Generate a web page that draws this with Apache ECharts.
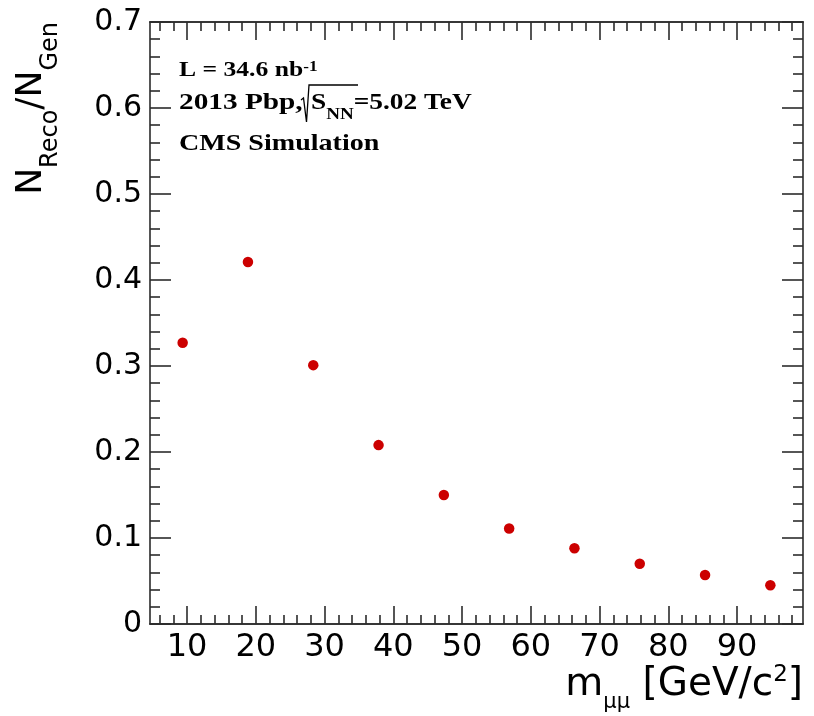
<!DOCTYPE html>
<html><head><meta charset="utf-8">
<script src="https://cdn.jsdelivr.net/npm/echarts@6/dist/echarts.min.js"></script>
<style>html,body{margin:0;padding:0;background:#fff}#c{width:814px;height:716px}</style>
</head><body><div id="c"></div>
<script>
// Data
const massBinCenters = [9.35, 18.85, 28.35, 37.85, 47.35, 56.85, 66.35, 75.85, 85.35, 94.85];
const recoOverGen   = [0.327, 0.421, 0.301, 0.208, 0.150, 0.111, 0.088, 0.070, 0.057, 0.045];
const xMajorTicks = [10, 20, 30, 40, 50, 60, 70, 80, 90];
const xMinorTicks = [6, 8, 12, 14, 16, 18, 22, 24, 26, 28, 32, 34, 36, 38, 42, 44, 46, 48,
                     52, 54, 56, 58, 62, 64, 66, 68, 72, 74, 76, 78, 82, 84, 86, 88, 92, 94, 96, 98];
const xRange = [4.6, 99.6];
const yRange = [0, 0.7];
const yStep = 0.1;

const frameColor = '#2b2b2b';
const sans = 'DejaVu Sans';
const serif = 'Liberation Serif';

const chart = echarts.init(document.getElementById('c'), null, {renderer: 'canvas'});

const gridRect = {left: 150, right: 11, top: 22, bottom: 92, outerBoundsMode: 'none', containLabel: false};
const lineStyle = {color: frameColor, width: 1.6};

function xAxis(grid, pos, ticks, len, labels) {
  return {
    type: 'value', gridIndex: grid, position: pos, min: xRange[0], max: xRange[1],
    axisLine: {show: true, onZero: false, lineStyle: lineStyle},
    axisTick: {show: true, inside: true, length: len, customValues: ticks, lineStyle: lineStyle},
    axisLabel: labels ? {show: true, customValues: ticks, fontFamily: sans, fontSize: 32, color: '#000', margin: 8} : {show: false},
    splitLine: {show: false}
  };
}
function yAxis(grid, pos, labels, show) {
  return {
    type: 'value', gridIndex: grid, position: pos, min: yRange[0], max: yRange[1], interval: yStep,
    show: show,
    axisLine: {show: true, onZero: false, lineStyle: lineStyle},
    axisTick: {show: true, inside: true, length: 21, lineStyle: lineStyle},
    minorTick: {show: true, splitNumber: 5, length: 10, lineStyle: lineStyle},
    axisLabel: labels ? {show: true, fontFamily: sans, fontSize: 30, color: '#000', margin: 8} : {show: false},
    splitLine: {show: false}
  };
}

chart.setOption({
  animation: false,
  backgroundColor: '#fff',
  grid: [Object.assign({}, gridRect), Object.assign({}, gridRect)],
  xAxis: [
    xAxis(0, 'bottom', xMajorTicks, 18, true),
    xAxis(0, 'top', xMajorTicks, 18, false),
    xAxis(1, 'bottom', xMinorTicks, 9, false),
    xAxis(1, 'top', xMinorTicks, 9, false)
  ],
  yAxis: [
    yAxis(0, 'left', true, true),
    yAxis(0, 'right', false, true),
    yAxis(1, 'left', false, false)
  ],
  series: [{
    type: 'scatter', xAxisIndex: 0, yAxisIndex: 0,
    data: massBinCenters.map((x, i) => [x, recoOverGen[i]]),
    symbol: 'circle', symbolSize: 10.5,
    itemStyle: {color: '#cc0000', opacity: 1}
  }],
  graphic: [
    { // y-axis title
      type: 'text', x: 63, y: 22, rotation: Math.PI / 2,
      style: {
        text: '{m|N}{s|Reco}{m|/N}{s|Gen}', align: 'right', verticalAlign: 'bottom',
        rich: {
          m: {fontFamily: sans, fontSize: 36, lineHeight: 36, verticalAlign: 'bottom', padding: [0, 0, 13, 0], fill: '#000'},
          s: {fontFamily: sans, fontSize: 24, lineHeight: 24, verticalAlign: 'bottom', fill: '#000'}
        }
      }
    },
    { // x-axis title
      type: 'text', x: 803, y: 713,
      style: {
        text: '{m|m}{s|μμ}{m| [GeV/c}{p|2}{m|]}', align: 'right', verticalAlign: 'bottom',
        rich: {
          m: {fontFamily: sans, fontSize: 39, lineHeight: 39, verticalAlign: 'bottom', padding: [0, 0, 9, 0], fill: '#000'},
          s: {fontFamily: sans, fontSize: 21, lineHeight: 21, verticalAlign: 'bottom', fill: '#000'},
          p: {fontFamily: sans, fontSize: 23, lineHeight: 23, verticalAlign: 'bottom', padding: [0, 0, 26, 0], fill: '#000'}
        }
      }
    },
    {
      type: 'text', x: 179, y: 81, scaleX: 1.22,
      style: {
        text: '{m|L = 34.6 nb}{p|-1}', align: 'left', verticalAlign: 'bottom',
        rich: {
          m: {fontFamily: serif, fontWeight: 'bold', fontSize: 21, lineHeight: 21, verticalAlign: 'bottom', fill: '#000'},
          p: {fontFamily: serif, fontWeight: 'bold', fontSize: 14, lineHeight: 14, verticalAlign: 'bottom', padding: [0, 0, 7, 0], fill: '#000'}
        }
      }
    },
    {
      type: 'text', x: 179, y: 115, scaleX: 1.22,
      style: {
        text: '2013 Pbp,', align: 'left', verticalAlign: 'bottom',
        fontFamily: serif, fontWeight: 'bold', fontSize: 24, fill: '#000'
      }
    },
    {
      type: 'polyline',
      shape: {points: [[301, 100], [303.5, 98], [306.5, 122], [309, 85], [358, 85]]},
      style: {stroke: '#000', lineWidth: 1.3, fill: null}
    },
    {
      type: 'text', x: 311, y: 123, scaleX: 1.19,
      style: {
        text: '{m|S}{s|NN}{m|=5.02 TeV}', align: 'left', verticalAlign: 'bottom',
        rich: {
          m: {fontFamily: serif, fontWeight: 'bold', fontSize: 23, lineHeight: 23, verticalAlign: 'bottom', padding: [0, 0, 8, 0], fill: '#000'},
          s: {fontFamily: serif, fontWeight: 'bold', fontSize: 16, lineHeight: 16, verticalAlign: 'bottom', fill: '#000'}
        }
      }
    },
    {
      type: 'text', x: 179, y: 156, scaleX: 1.22,
      style: {
        text: 'CMS Simulation', align: 'left', verticalAlign: 'bottom',
        fontFamily: serif, fontWeight: 'bold', fontSize: 23, fill: '#000'
      }
    }
  ]
});
</script>
</body></html>
